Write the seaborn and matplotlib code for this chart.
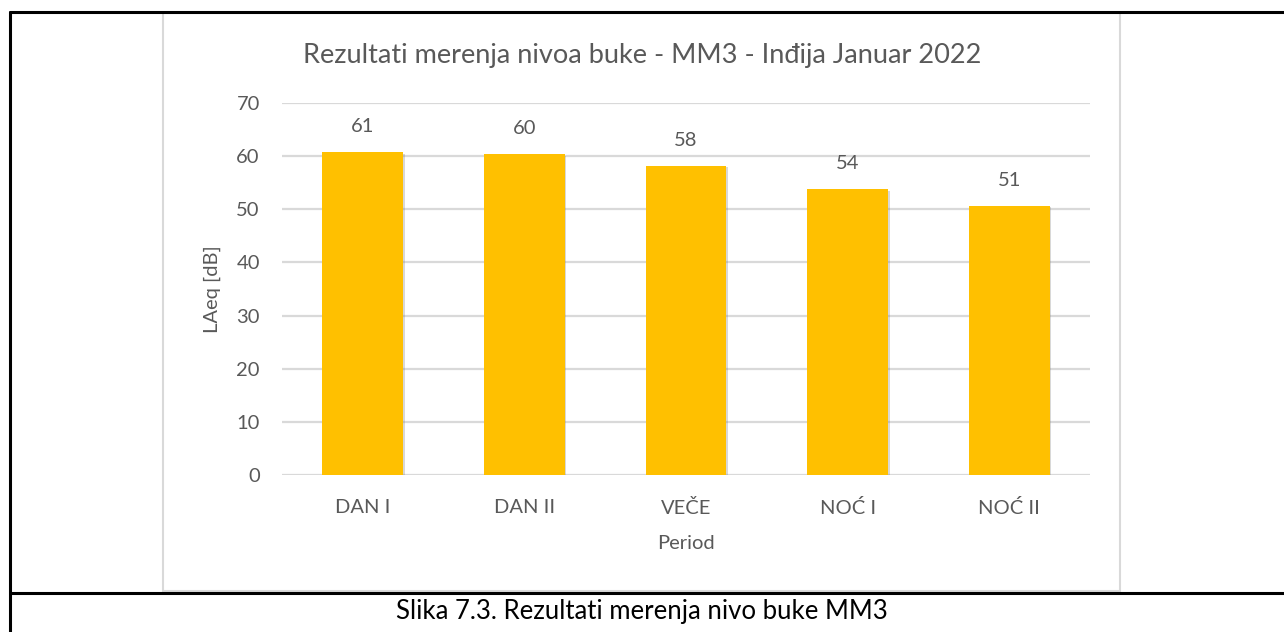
import matplotlib
matplotlib.use("Agg")
import matplotlib.pyplot as plt
from matplotlib.lines import Line2D
from matplotlib.patches import Rectangle
import matplotlib.patheffects as pe
import seaborn as sns

# Noise measurement results per period (LAeq, dB)
periods = ["DAN I", "DAN II", "VEČE", "NOĆ I", "NOĆ II"]
laeq = [60.8, 60.4, 58.2, 53.8, 50.7]
y_ticks = [0, 10, 20, 30, 40, 50, 60, 70]

title = "Rezultati merenja nivoa buke - MM3 - Inđija Januar 2022"
caption = "Slika 7.3. Rezultati merenja nivo buke MM3"

sns.set_style("white")
plt.rcParams["font.family"] = ["Lato", "DejaVu Sans"]

W, H = 1284, 632
fig = plt.figure(figsize=(W / 100, H / 100), dpi=100)
fig.patch.set_facecolor("white")


def fx(px):
    return px / W


def fy(py):
    return 1 - py / H


text_grey = "#595959"
grid_grey = "#d9d9d9"
bar_color = "#FFC000"
fs = 14.5

# plot area
ax = fig.add_axes([fx(282), fy(475), fx(1090) - fx(282), fy(103) - fy(475)])
sns.barplot(x=periods, y=laeq, color=bar_color, saturation=1, width=0.5,
            linewidth=0, ax=ax)

for bar in ax.patches:
    bar.set_path_effects([
        pe.SimplePatchShadow(offset=(1.2, -1.2), shadow_rgbFace="#7f7f7f", alpha=0.3),
        pe.Normal(),
    ])

ax.set_xlim(-0.5, len(periods) - 0.5)
ax.set_ylim(0, 70)
ax.set_yticks(y_ticks)
ax.yaxis.grid(True, color=grid_grey, linewidth=1.6)
ax.xaxis.grid(False)
ax.set_axisbelow(True)
for s in ax.spines.values():
    s.set_visible(False)
ax.tick_params(axis="both", length=0, labelsize=fs, labelcolor=text_grey)
ax.tick_params(axis="x", pad=17)
ax.tick_params(axis="y", pad=16)

ax.set_ylabel("LAeq [dB]", fontsize=fs, color=text_grey)
ax.yaxis.set_label_coords(-0.0755, 0.5)
ax.set_xlabel("Period", fontsize=fs, color=text_grey)
ax.xaxis.set_label_coords(0.5, -0.161)

# value labels above bars
for i, v in enumerate(laeq):
    ax.annotate(f"{v:.0f}", xy=(i, v), xytext=(0, 12), textcoords="offset points",
                ha="center", va="bottom", fontsize=fs, color=text_grey)

# chart title
fig.text(fx(642), fy(55), title, ha="center", va="center", fontsize=19.5, color=text_grey)

# chart frame
fig.add_artist(Rectangle((fx(163), fy(591)), fx(1120) - fx(163), fy(13) - fy(591),
                         transform=fig.transFigure, fill=False,
                         edgecolor=grid_grey, linewidth=1.5))

# table rules around the figure and its caption
lw = 2.2
fig.add_artist(Line2D([fx(10), 1], [fy(12), fy(12)], color="black", linewidth=lw,
                      transform=fig.transFigure))
fig.add_artist(Line2D([fx(10), 1], [fy(593), fy(593)], color="black", linewidth=lw,
                      transform=fig.transFigure))
fig.add_artist(Line2D([fx(10), fx(10)], [fy(12), 0], color="black", linewidth=lw,
                      transform=fig.transFigure))

fig.text(fx(642), fy(612), caption, ha="center", va="center", fontsize=18.5, color="black")

fig.savefig("out.png", dpi=100, facecolor="white")
